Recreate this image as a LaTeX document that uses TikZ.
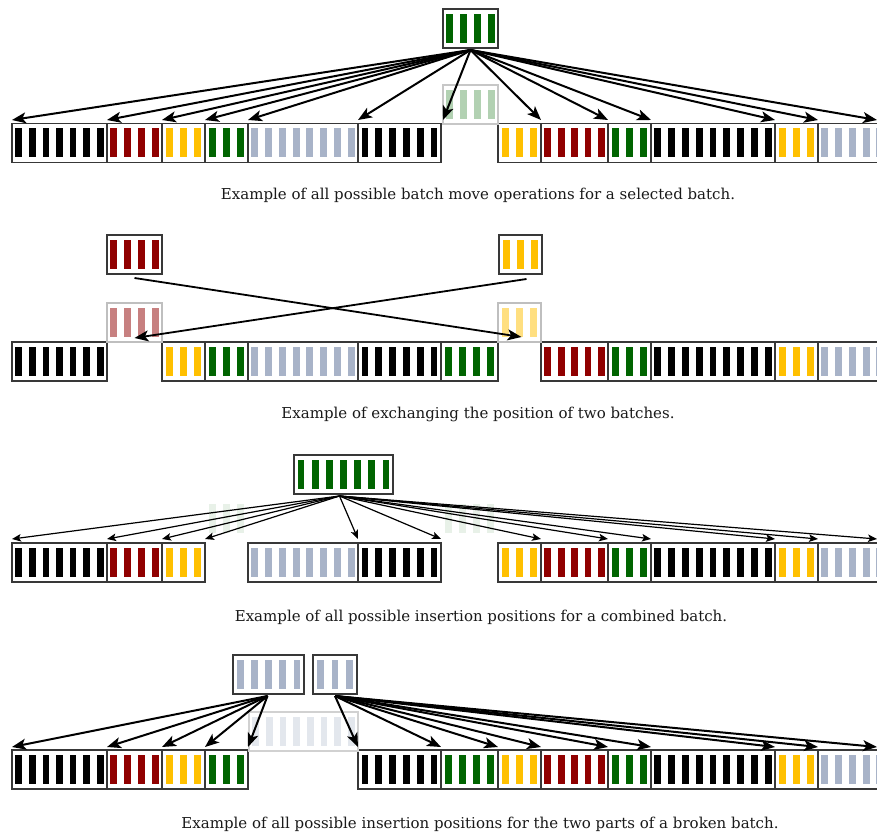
\documentclass[tikz,border=0pt]{standalone}
\usepackage{fontspec}
\setmainfont{DejaVu Serif}
\usetikzlibrary{arrows.meta}
\definecolor{bk}{HTML}{000000}
\definecolor{rd}{HTML}{900000}
\definecolor{yl}{HTML}{FFC000}
\definecolor{gn}{HTML}{006400}
\definecolor{gy}{HTML}{A8B3C8}
\definecolor{frm}{HTML}{383838}
\definecolor{capt}{HTML}{1A1A1A}
\tikzset{
  batchbox/.style={inner sep=0pt, outer sep=0pt, minimum height=39pt, line width=1.3pt},
  bigarrow/.style={line width=2pt, -{Stealth[length=14pt,width=11pt,inset=3.5pt]}},
  midarrow/.style={line width=1.8pt, -{Stealth[length=14pt,width=11pt,inset=3.5pt]}},
  thinarrow/.style={line width=1.2pt, -{Stealth[length=9pt,width=7.5pt,inset=2pt]}},
  caption/.style={anchor=base, font=\fontsize{15}{17}\selectfont, text=capt, inner sep=0pt}
}
% #1 name, #2 x1, #3 x2, #4 ytop, #5 n, #6 bar colour, #7 frame colour
\newcommand\batchat[7]{%
  \pgfmathsetmacro\batchw{#3-#2}%
  \pgfmathsetmacro\batchp{(#3-#2)/#5}%
  \node[batchbox, draw=#7, minimum width=\batchw pt, anchor=north west] (#1) at (#2,#4) {};
  \foreach \i in {1,...,#5}{
    \fill[#6] ({#2+(\i-0.5)*\batchp-3.4},{#4+5}) rectangle ({#2+(\i-0.5)*\batchp+3.4},{#4+34});
  }
}
% bars only (faint ghost)
\newcommand\ghostbars[5]{%
  \pgfmathsetmacro\batchp{(#2-#1)/#4}%
  \foreach \i in {1,...,#4}{
    \fill[#5] ({#1+(\i-0.5)*\batchp-3.4},{#3+5}) rectangle ({#1+(\i-0.5)*\batchp+3.4},{#3+34});
  }
}
\begin{document}
\begin{tikzpicture}[x=1pt,y=-1pt]
\useasboundingbox (0,0) rectangle (877,834);
\fill[white] (0,0) rectangle (877,834);
\clip (0,0) rectangle (877,834);

% ================= Panel 1 =================
\foreach \a/\b/\n/\c [count=\k] in {12/107/7/bk,107/162/4/rd,162/205/3/yl,205/248/3/gn,248/358/8/gy,358/441/6/bk,498/541/3/yl,541/608/5/rd,608/651/3/gn,651/775/9/bk,775/818/3/yl,818/928/8/gy}{
  \batchat{sa\k}{\a}{\b}{123.5}{\n}{\c}{frm}
}
\batchat{ghosta}{443}{498}{85}{4}{gn!30}{black!22}
\batchat{ga}{443}{498}{9}{4}{gn}{frm}
\coordinate (oa) at ([yshift=-2pt]ga.south);
\foreach \x [count=\k] in {12,107,162,205,248,358,443,541,608,651,775,818,877}{
  \coordinate (ta\k) at (\x,120);
  \draw[bigarrow] (oa) -- (ta\k);
}
\node[caption] (capa) at (478,200) {Example of all possible batch move operations for a selected batch.};

% ================= Panel 2 =================
\foreach \a/\b/\n/\c [count=\k] in {12/107/7/bk,162/205/3/yl,205/248/3/gn,248/358/8/gy,358/441/6/bk,441/498/4/gn,541/608/5/rd,608/651/3/gn,651/775/9/bk,775/818/3/yl,818/928/8/gy}{
  \batchat{sb\k}{\a}{\b}{342}{\n}{\c}{frm}
}
\batchat{ghostr}{107}{162}{303}{4}{rd!50}{black!25}
\batchat{ghosty}{498}{541}{303}{3}{yl!50}{black!25}
\batchat{gr}{107}{162}{235}{4}{rd}{frm}
\batchat{gyl}{499}{542}{235}{3}{yl}{frm}
\coordinate (orr) at ([yshift=-4pt]gr.south);
\coordinate (oyy) at ([xshift=6pt,yshift=-5pt]gyl.south);
\coordinate (tyy) at ([xshift=2pt,yshift=5pt]ghosty.south);
\coordinate (trr) at ([yshift=4pt]ghostr.south);
\draw[midarrow] (orr) -- (tyy);
\draw[midarrow] (oyy) -- (trr);
\node[caption] (capb) at (478,418) {Example of exchanging the position of two batches.};

% ================= Panel 3 =================
\ghostbars{205}{248}{499}{3}{gn!9}
\ghostbars{441}{498}{499}{4}{gn!9}
\foreach \a/\b/\n/\c [count=\k] in {12/107/7/bk,107/162/4/rd,162/205/3/yl,248/358/8/gy,358/441/6/bk,498/541/3/yl,541/608/5/rd,608/651/3/gn,651/775/9/bk,775/818/3/yl,818/928/8/gy}{
  \batchat{sc\k}{\a}{\b}{543}{\n}{\c}{frm}
}
\batchat{gc}{294}{393}{455}{7}{gn}{frm}
\coordinate (oc) at ([xshift=-4pt,yshift=-2pt]gc.south);
\foreach \x [count=\k] in {12,107,162,205,358,441,541,608,651,775,818,877}{
  \coordinate (tc\k) at (\x,539);
  \draw[thinarrow] (oc) -- (tc\k);
}
\node[caption] (capc) at (481,621) {Example of all possible insertion positions for a combined batch.};

% ================= Panel 4 =================
\foreach \a/\b/\n/\c [count=\k] in {12/107/7/bk,107/162/4/rd,162/205/3/yl,205/248/3/gn,358/441/6/bk,441/498/4/gn,498/541/3/yl,541/608/5/rd,608/651/3/gn,651/775/9/bk,775/818/3/yl,818/928/8/gy}{
  \batchat{sd\k}{\a}{\b}{750}{\n}{\c}{frm}
}
\batchat{ghostg}{249}{358}{712}{8}{gy!32}{black!18}
\batchat{gda}{233}{304}{655}{5}{gy}{frm}
\batchat{gdb}{313}{357}{655}{3}{gy}{frm}
\coordinate (oda) at ([xshift=-1pt,yshift=-2pt]gda.south);
\coordinate (odb) at ([yshift=-2pt]gdb.south);
\foreach \x [count=\k] in {12,107,162,205,248}{
  \coordinate (tda\k) at (\x,747);
  \draw[bigarrow] (oda) -- (tda\k);
}
\foreach \x [count=\k] in {358,441,498,541,608,651,775,818,877}{
  \coordinate (tdb\k) at (\x,747);
  \draw[bigarrow] (odb) -- (tdb\k);
}
\node[caption] (capd) at (480,828) {Example of all possible insertion positions for the two parts of a broken batch.};
\end{tikzpicture}
\end{document}
